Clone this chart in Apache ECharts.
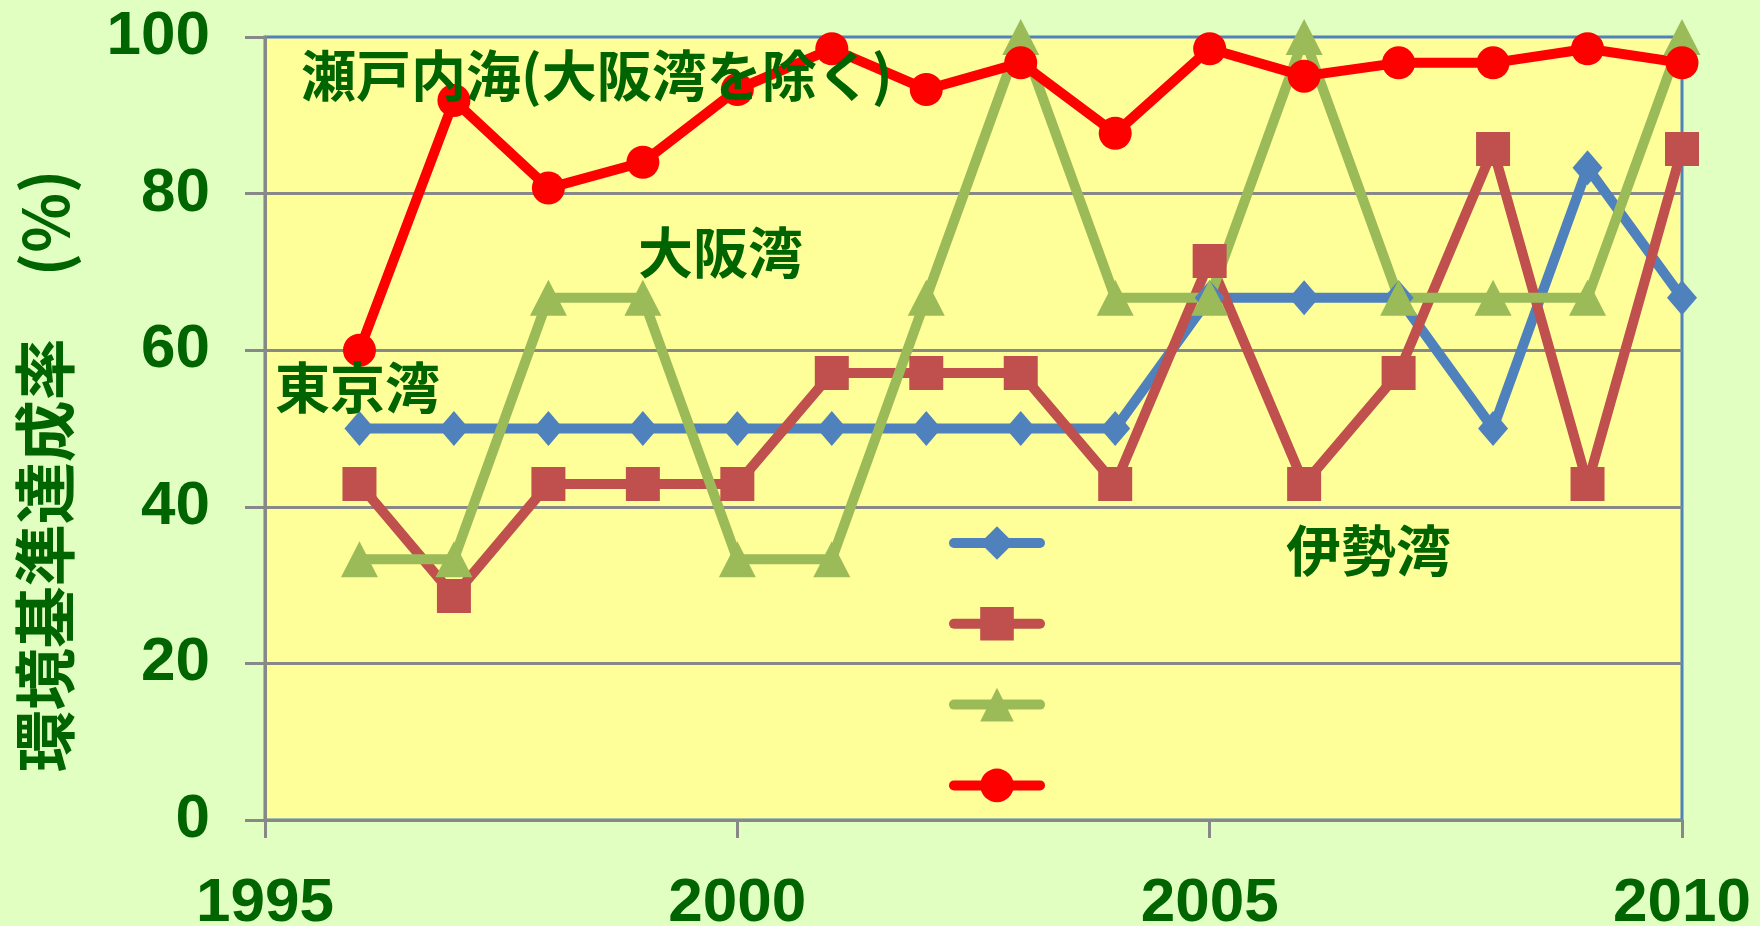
<!DOCTYPE html>
<html>
<head>
<meta charset="utf-8">
<script src="https://cdn.jsdelivr.net/npm/echarts@6/dist/echarts.min.js"></script>
<style>
html,body{margin:0;padding:0;background:#E0FFC0;}
#chart{width:1760px;height:926px;}
</style>
</head>
<body>
<div id="chart"></div>
<script>
// ---- data ----
var years = [1996, 1997, 1998, 1999, 2000, 2001, 2002, 2003, 2004, 2005, 2006, 2007, 2008, 2009, 2010];
var seriesNames = ['東京湾', '伊勢湾', '大阪湾', '瀬戸内海（大阪湾を除く）'];
var tokyo   = [50, 50, 50, 50, 50, 50, 50, 50, 50, 66.7, 66.7, 66.7, 50, 83.3, 66.7];
var ise     = [42.9, 28.6, 42.9, 42.9, 42.9, 57.1, 57.1, 57.1, 42.9, 71.4, 42.9, 57.1, 85.7, 42.9, 85.7];
var osaka   = [33.3, 33.3, 66.7, 66.7, 33.3, 33.3, 66.7, 100, 66.7, 66.7, 100, 66.7, 66.7, 66.7, 100];
var seto    = [60, 91.9, 80.7, 84.0, 93.3, 98.5, 93.3, 96.7, 87.7, 98.5, 95.0, 96.7, 96.7, 98.5, 96.7];
var xTicks = [1995, 2000, 2005, 2010];
var yTicks = [0, 20, 40, 60, 80, 100];
var yAxisTitle = '環境基準達成率　(%)';
var annotations = [
  {text: '瀬戸内海(大阪湾を除く)', x: 301, y: 75},
  {text: '大阪湾', x: 638, y: 252},
  {text: '東京湾', x: 275, y: 387},
  {text: '伊勢湾', x: 1286, y: 550}
];

function pairs(vals) { return years.map(function (y, i) { return [y, vals[i]]; }); }

var green = '#006400';
var gray = '#888888';
var numFont = 'Liberation Sans, Arial, sans-serif';
var cjkFont = '"Noto Sans CJK JP", sans-serif';

function mkSeries(name, vals, color, symbol, size) {
  return {
    name: name,
    type: 'line',
    data: pairs(vals),
    symbol: symbol,
    symbolSize: size,
    showSymbol: true,
    lineStyle: {color: color, width: 10, cap: 'round', join: 'round'},
    itemStyle: {color: color, borderWidth: 0},
    emphasis: {disabled: true},
    animation: false
  };
}

var chart = echarts.init(document.getElementById('chart'), null, {renderer: 'canvas'});
chart.setOption({
  backgroundColor: '#E0FFC0',
  animation: false,
  grid: {
    left: 265, right: 78, top: 37, bottom: 106,
    containLabel: false, outerBoundsMode: 'none',
    show: true, backgroundColor: '#FFFF99', borderColor: '#4F81BD', borderWidth: 3
  },
  legend: {
    orient: 'vertical',
    left: 944, top: 517,
    itemWidth: 86, itemHeight: 42, itemGap: 43,
    data: seriesNames,
    formatter: function () { return ''; },
    textStyle: {fontSize: 1},
    lineStyle: {width: 10, cap: 'round'},
    selectedMode: false
  },
  xAxis: {
    type: 'value', min: 1995, max: 2010, interval: 5,
    axisLine: {show: true, lineStyle: {color: gray, width: 3}},
    axisTick: {show: true, length: 18, lineStyle: {color: gray, width: 3}},
    splitLine: {show: false},
    axisLabel: {
      margin: 53, color: green, fontWeight: 'bold', fontSize: 62, fontFamily: numFont,
      lineHeight: 62, showMinLabel: true, showMaxLabel: true,
      formatter: function (v) { return xTicks.indexOf(v) >= 0 ? String(v) : ''; }
    }
  },
  yAxis: {
    type: 'value', min: 0, max: 100, interval: 20,
    axisLine: {show: true, lineStyle: {color: gray, width: 3}},
    axisTick: {show: true, length: 20, lineStyle: {color: gray, width: 3}},
    splitLine: {show: true, showMaxLine: false, showMinLine: false, lineStyle: {color: gray, width: 3}},
    axisLabel: {
      margin: 55, color: green, fontWeight: 'bold', fontSize: 62, fontFamily: numFont,
      formatter: function (v) { return yTicks.indexOf(v) >= 0 ? String(v) : ''; }
    }
  },
  graphic: [{
    type: 'text', x: 45, y: 471, rotation: Math.PI / 2, z: 100,
    style: {text: yAxisTitle, font: 'bold 62px ' + cjkFont, fill: green, align: 'center', verticalAlign: 'middle'}
  }].concat(annotations.map(function (a) {
    return {
      type: 'text', x: a.x, y: a.y, z: 100,
      style: {text: a.text, font: 'bold 55px ' + cjkFont, fill: green, align: 'left', verticalAlign: 'middle'}
    };
  })),
  series: [
    mkSeries(seriesNames[0], tokyo, '#4F81BD', 'diamond', [30, 35]),
    mkSeries(seriesNames[1], ise, '#C0504D', 'rect', 34),
    mkSeries(seriesNames[2], osaka, '#9BBB59', 'triangle', [37, 36]),
    mkSeries(seriesNames[3], seto, '#FF0000', 'circle', 33)
  ]
});
</script>
</body>
</html>
